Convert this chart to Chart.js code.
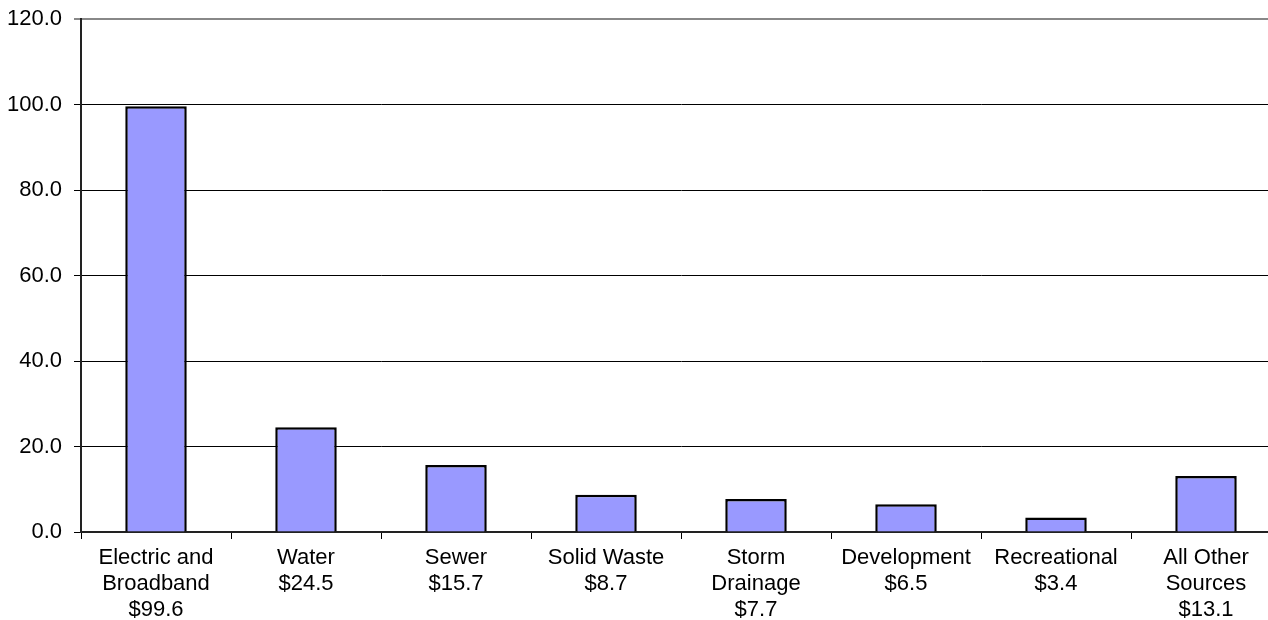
<!DOCTYPE html>
<html>

<head>
  <meta charset="utf-8">
  <title>Revenue by Source</title>
  <style>
    html, body {
      margin: 0;
      padding: 0;
      background: #fff;
      overflow: hidden;
    }

    .wrap {
      position: relative;
      width: 1284px;
      height: 620px;
    }
  </style>
</head>

<body>
  <div class="wrap">
    <canvas id="revenue-chart"></canvas>
  </div>

  <script src="https://cdn.jsdelivr.net/npm/chart.js"></script>

  <script>
    const categories = [
      ['Electric and', 'Broadband', '$99.6'],
      ['Water', '$24.5'],
      ['Sewer', '$15.7'],
      ['Solid Waste', '$8.7'],
      ['Storm', 'Drainage', '$7.7'],
      ['Development', '$6.5'],
      ['Recreational', '$3.4'],
      ['All Other', 'Sources', '$13.1']
    ];
    const amounts = [99.6, 24.5, 15.7, 8.7, 7.7, 6.5, 3.4, 13.1];
    const yMax = 120;
    const yStep = 20;

    Chart.defaults.font.family = '"Liberation Sans", Arial, sans-serif';
    Chart.defaults.font.size = 22;
    Chart.defaults.font.lineHeight = 1.18;
    Chart.defaults.color = '#000';

    new Chart(document.getElementById('revenue-chart'), {
      type: 'bar',
      data: {
        labels: categories,
        datasets: [{
          data: amounts,
          backgroundColor: '#9999FF',
          borderColor: '#000',
          borderWidth: 2.5,
          barPercentage: 0.41,
          categoryPercentage: 1
        }]
      },
      options: {
        responsive: true,
        maintainAspectRatio: false,
        animation: false,
        layout: { padding: { left: 0, top: 19, right: 3, bottom: 0 } },
        plugins: {
          legend: { display: false },
          tooltip: { enabled: false }
        },
        scales: {
          x: {
            offset: true,
            afterFit: scale => { scale.height = 88; },
            grid: {
              offset: true,
              drawOnChartArea: false,
              drawTicks: true,
              tickLength: 7,
              color: '#000'
            },
            border: { color: '#222', width: 2 },
            ticks: { padding: 6, maxRotation: 0, autoSkip: false }
          },
          y: {
            min: 0,
            max: yMax,
            afterFit: scale => {
              scale.width = 81;
              scale.paddingTop = 0;
            },
            ticks: {
              stepSize: yStep,
              padding: 12,
              callback: v => v.toFixed(1)
            },
            grid: {
              color: ctx => ctx.tick && ctx.tick.value === yMax ? '#888' : '#000',
              lineWidth: ctx => ctx.tick && ctx.tick.value === yMax ? 2 : 1,
              tickLength: 7,
              drawTicks: true
            },
            border: { color: '#222', width: 2 }
          }
        }
      }
    });
  </script>
</body>

</html>
